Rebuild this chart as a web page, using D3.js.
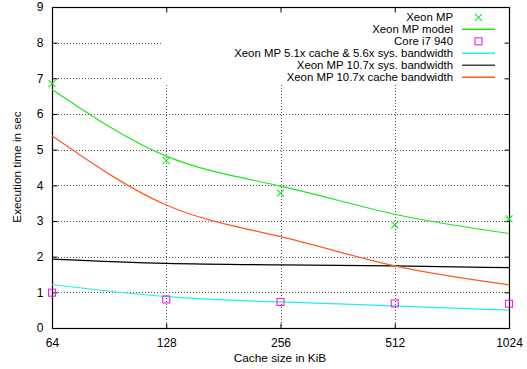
<!DOCTYPE html>
<html><head><meta charset="utf-8">
<script src="https://cdn.jsdelivr.net/npm/d3@7"></script>
<style>body{margin:0;background:#fff}svg{display:block;font-family:"Liberation Sans",Arial,sans-serif}</style>
</head><body>
<svg id="c" width="527" height="369"></svg>
<script>
const cacheSizes = [64, 128, 256, 512, 1024];
const xeonMP = [6.85, 4.69, 3.78, 2.89, 3.06];
const xeonModel = [6.69, 4.82, 3.98, 3.19, 2.65];
const corei7 = [0.99, 0.80, 0.73, 0.69, 0.68];
const cache51 = [1.22, 0.88, 0.73, 0.62, 0.50];
const sys107 = [1.93, 1.81, 1.77, 1.74, 1.69];
const cache107 = [5.39, 3.45, 2.56, 1.74, 1.21];
const yTicks = [0,1,2,3,4,5,6,7,8,9];
const legendLabels = ["Xeon MP","Xeon MP model","Core i7 940","Xeon MP 5.1x cache & 5.6x sys. bandwidth","Xeon MP 10.7x sys. bandwidth","Xeon MP 10.7x cache bandwidth"];

const L=52,R=509,T=7,B=328;
const svg=d3.select("#c");
const x=d3.scaleLog().base(2).domain([64,1024]).range([L,R]);
const y=d3.scaleLinear().domain([0,9]).range([B,T]);

const green="#1ee61e", magenta="#f01ef0", cyan="#22eeee", black="#000", orange="#ff5a1e";

// grid
const g=svg.append("g");
g.selectAll(".hg").data(yTicks.slice(1,-1)).join("line")
 .attr("x1",L).attr("x2",R).attr("y1",d=>Math.round(y(d))+0.5).attr("y2",d=>Math.round(y(d))+0.5)
 .attr("stroke","#555").attr("stroke-dasharray","1,2").attr("stroke-width",1);
g.selectAll(".vg").data(cacheSizes.slice(1,-1)).join("line")
 .attr("y1",T).attr("y2",B).attr("x1",d=>Math.round(x(d))+0.5).attr("x2",d=>Math.round(x(d))+0.5)
 .attr("stroke","#555").attr("stroke-dasharray","1,2").attr("stroke-width",1);
// legend mask
svg.append("rect").attr("x",163).attr("y",T+1).attr("width",R-163).attr("height",83-T).attr("fill","#fff");

// frame
svg.append("rect").attr("x",L+0.5).attr("y",T+0.5).attr("width",R-L).attr("height",B-T)
 .attr("fill","none").attr("stroke","#000").attr("stroke-width",1.2);

// axes
const ya=svg.append("g").attr("transform",`translate(${L+0.5},0)`)
 .call(d3.axisLeft(y).tickValues(yTicks).tickSize(-5).tickPadding(9).tickFormat(d3.format("d")));
const ya2=svg.append("g").attr("transform",`translate(${R+0.5},0)`)
 .call(d3.axisRight(y).tickValues(yTicks).tickSize(-5).tickFormat(""));
const xa=svg.append("g").attr("transform",`translate(0,${B+0.5})`)
 .call(d3.axisBottom(x).tickValues(cacheSizes).tickSize(-5).tickPadding(10).tickFormat(d3.format("d")));
const xa2=svg.append("g").attr("transform",`translate(0,${T+0.5})`)
 .call(d3.axisTop(x).tickValues(cacheSizes).tickSize(-5).tickFormat(""));
[ya,ya2,xa,xa2].forEach(a=>{a.select(".domain").remove();a.selectAll("text").attr("font-size",12).attr("fill","#000").attr("font-family","Liberation Sans, Arial, sans-serif");});

svg.append("text").attr("x",280).attr("y",362).attr("text-anchor","middle").attr("font-size",11.8).text("Cache size in KiB");
svg.append("text").attr("transform","translate(21,167) rotate(-90)").attr("text-anchor","middle").attr("font-size",11.8).text("Execution time in sec");

// lines
const line=vals=>d3.line().curve(d3.curveNatural).x((d,i)=>x(cacheSizes[i])).y(d=>y(d))(vals);
[[xeonModel,green],[cache51,cyan],[sys107,black],[cache107,orange]].forEach(([v,c])=>{
 svg.append("path").attr("d",line(v)).attr("fill","none").attr("stroke",c).attr("stroke-width",1.2);
});

// points
const cross=svg.append("g");
cross.selectAll("path").data(xeonMP).join("path")
 .attr("d",(d,i)=>{const cx=x(cacheSizes[i]),cy=y(d),s=3.5;return `M${cx-s},${cy-s}L${cx+s},${cy+s}M${cx-s},${cy+s}L${cx+s},${cy-s}`;})
 .attr("stroke",green).attr("stroke-width",1.1).attr("fill","none");
svg.append("g").selectAll("rect").data(corei7).join("rect")
 .attr("x",(d,i)=>x(cacheSizes[i])-3.5).attr("y",d=>y(d)-3.5).attr("width",7).attr("height",7)
 .attr("fill","none").attr("stroke",magenta).attr("stroke-width",1.1);

// legend
const lg=svg.append("g");
const rowY=i=>17.3+i*12;
legendLabels.forEach((t,i)=>{
 lg.append("text").attr("x",453).attr("y",rowY(i)+4).attr("text-anchor","end").attr("font-size",11.4).attr("textLength",null).text(t);
});
const sx1=462,sx2=495,sm=(sx1+sx2)/2;
lg.append("path").attr("d",`M${sm-3.5},${rowY(0)-3.5}L${sm+3.5},${rowY(0)+3.5}M${sm-3.5},${rowY(0)+3.5}L${sm+3.5},${rowY(0)-3.5}`).attr("stroke",green).attr("stroke-width",1.1);
lg.append("rect").attr("x",sm-3.5).attr("y",rowY(2)-3.5).attr("width",7).attr("height",7).attr("fill","none").attr("stroke",magenta).attr("stroke-width",1.1);
[[1,green],[3,cyan],[4,"#444"],[5,orange]].forEach(([i,c])=>{
 lg.append("line").attr("x1",sx1).attr("x2",sx2).attr("y1",rowY(i)).attr("y2",rowY(i)).attr("stroke",c).attr("stroke-width",1.4);
});
</script>
</body></html>
